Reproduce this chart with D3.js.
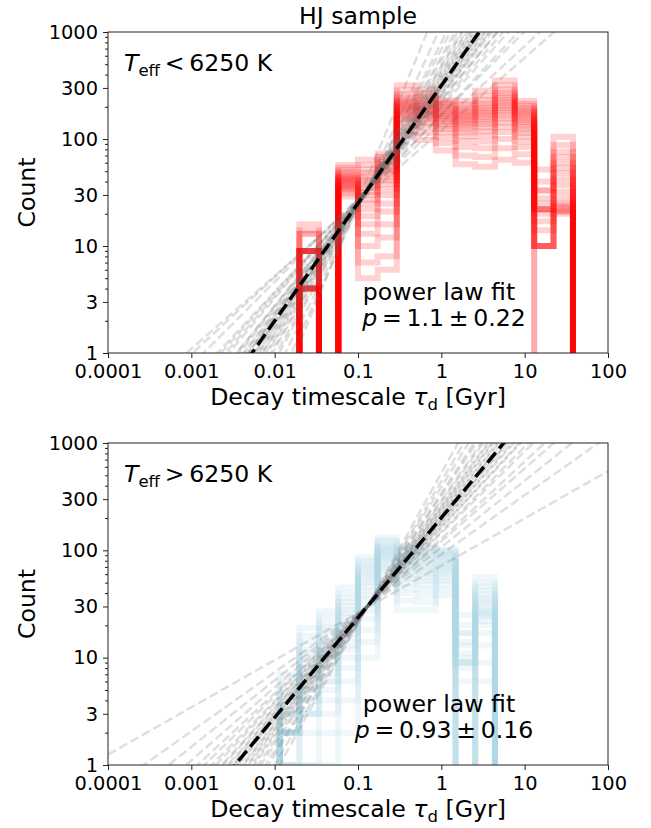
<!DOCTYPE html>
<html>
<head>
<meta charset="utf-8">
<script src="https://cdn.jsdelivr.net/npm/d3@7/dist/d3.min.js"></script>
<style>
body { margin: 0; background: #fff; }
svg text { font-family: "DejaVu Sans", sans-serif; fill: #000; }
</style>
</head>
<body>
<script>
// tick values / labels
var xTicks = [0.0001, 0.001, 0.01, 0.1, 1, 10, 100]
var xTickLabels = ['0.0001', '0.001', '0.01', '0.1', '1', '10', '100']
var yTicks = [1, 3, 10, 30, 100, 300, 1000]
var yTickLabels = ['1', '3', '10', '30', '100', '300', '1000']

// Teff < 6250 K : bin edges (Gyr) and counts per bin for 20 resamplings
var hotEdges = [0.0198, 0.034, 0.058, 0.1, 0.172, 0.292, 0.5, 0.86, 1.48, 2.55, 4.4, 7.6, 13, 22.2, 38]
var hotCounts = [
  [4, 4, 4, 4, 4, 4, 4, 4, 9, 9, 9, 9, 9, 9, 9, 9, 13, 13, 14, 16],
  [0, 0, 0, 0, 0, 0, 0, 0, 0, 0, 0, 0, 0, 0, 0, 0, 0, 0, 0, 0],
  [29, 31, 33, 34, 35, 36, 37, 38, 39, 40, 41, 42, 43, 44, 45, 47, 49, 51, 54, 57],
  [5, 7, 10, 13, 16, 19, 22, 25, 27, 30, 32, 35, 37, 40, 42, 45, 48, 52, 57, 64],
  [6, 8, 12, 16, 21, 25, 30, 34, 38, 41, 44, 47, 50, 52, 55, 58, 61, 64, 68, 73],
  [110, 128, 142, 152, 160, 167, 174, 180, 186, 192, 198, 204, 210, 217, 224, 233, 245, 262, 285, 318],
  [98, 115, 130, 142, 151, 159, 166, 172, 178, 184, 190, 196, 202, 209, 216, 225, 236, 250, 268, 290],
  [78, 92, 104, 115, 124, 132, 139, 146, 152, 158, 164, 170, 176, 183, 190, 197, 205, 213, 222, 232],
  [58, 70, 84, 96, 106, 115, 123, 130, 137, 143, 149, 155, 161, 167, 174, 181, 189, 198, 210, 228],
  [55, 68, 82, 95, 107, 118, 128, 137, 145, 153, 161, 169, 177, 185, 194, 204, 216, 232, 252, 282],
  [64, 82, 100, 116, 130, 143, 155, 166, 177, 187, 197, 207, 218, 229, 241, 255, 270, 290, 318, 352],
  [60, 72, 84, 95, 105, 114, 122, 130, 137, 144, 151, 158, 165, 172, 179, 186, 194, 203, 214, 228],
  [0, 0, 10, 10, 10, 10, 10, 14, 17, 20, 22, 22, 22, 22, 25, 28, 33, 33, 40, 52],
  [0, 0, 20, 21, 21, 22, 23, 24, 25, 28, 32, 37, 42, 48, 54, 60, 68, 76, 88, 105]
]
// power law fits  N = norm * tau^slope
var hotFitSlopes = [0.68, 0.72, 0.78, 0.83, 0.87, 0.9, 0.93, 0.96, 0.98, 1.0, 1.02, 1.04, 1.05, 1.07, 1.08, 1.1, 1.11, 1.12, 1.14, 1.16, 1.18, 1.2, 1.22, 1.25, 1.28, 1.31, 1.35, 1.4, 1.46, 1.55, 1.7, 1.9]
var hotFitNorms = [120, 141, 168, 170, 200, 215, 235, 228, 252, 262, 260, 290, 276, 300, 318, 305, 330, 322, 350, 352, 384, 380, 415, 430, 470, 485, 545, 590, 690, 800, 1150, 2100]
var hotBest = { slope: 1.1, norm: 316, label: '1.1\u2009\u00b1\u20090.22' }

// Teff > 6250 K
var coolEdges = [0.0115, 0.0198, 0.034, 0.058, 0.1, 0.172, 0.292, 0.5, 0.86, 1.48, 2.55, 4.4]
var coolCounts = [
  [1, 1, 1, 1, 2, 2, 2, 2, 2, 2, 2, 2, 3, 3, 3, 3, 4, 5, 6, 7],
  [1, 1, 2, 3, 3, 3, 4, 4, 5, 5, 6, 7, 8, 9, 10, 11, 12, 14, 16, 19],
  [1, 2, 3, 4, 5, 6, 6, 7, 8, 10, 11, 12, 13, 14, 16, 18, 19, 21, 24, 27],
  [2, 4, 6, 8, 10, 12, 13, 15, 17, 18, 20, 22, 24, 26, 28, 30, 33, 36, 40, 45],
  [10, 14, 18, 23, 27, 31, 35, 38, 42, 46, 50, 53, 57, 60, 63, 67, 71, 75, 80, 86],
  [50, 57, 63, 68, 72, 76, 80, 84, 87, 90, 93, 96, 99, 102, 105, 108, 112, 118, 124, 132],
  [28, 34, 40, 45, 50, 54, 58, 62, 66, 70, 74, 78, 82, 86, 90, 94, 98, 102, 106, 110],
  [28, 33, 38, 43, 48, 52, 56, 60, 64, 68, 72, 76, 80, 84, 88, 92, 96, 100, 105, 110],
  [38, 43, 48, 52, 56, 60, 63, 66, 69, 72, 75, 78, 81, 84, 87, 90, 93, 96, 99, 102],
  [0, 0, 0, 0, 0, 0, 6, 8, 9, 9, 9, 9, 10, 11, 13, 14, 17, 17, 20, 25],
  [6, 9, 13, 17, 20, 22, 24, 25, 26, 27, 28, 30, 32, 34, 36, 39, 42, 46, 50, 56]
]
var coolFitSlopes = [0.44, 0.55, 0.62, 0.68, 0.72, 0.76, 0.79, 0.82, 0.84, 0.86, 0.88, 0.9, 0.91, 0.93, 0.94, 0.96, 0.98, 1.0, 1.02, 1.04, 1.06, 1.09, 1.12, 1.16, 1.2, 1.25, 1.32, 1.4]
var coolFitNorms = [72, 92, 107, 121, 128, 145, 150, 165, 164, 178, 180, 193, 190, 204, 205, 218, 220, 236, 240, 255, 258, 282, 292, 325, 340, 390, 440, 524]
var coolBest = { slope: 0.93, norm: 201, label: '0.93\u2009\u00b1\u20090.16' }

var W = 651, H = 828
var left = 108, right = 608
var tickFont = 19.4, labelFont = 23.6

var svg = d3.select('body')
            .append('svg')
            .attr('width', W)
            .attr('height', H)

svg.append('text')
   .attr('x', (left + right) / 2)
   .attr('y', 24)
   .attr('text-anchor', 'middle')
   .style('font-size', labelFont + 'px')
   .text('HJ sample')

function drawPanel(id, top, bottom, edges, counts, colour, alpha, slopes, norms, best, sign){
  var x = d3.scaleLog().domain([1e-4, 100]).range([left, right])
  var y = d3.scaleLog().domain([1, 1000]).range([bottom, top])

  svg.append('clipPath').attr('id', 'clip' + id)
     .append('rect')
     .attr('x', left).attr('y', top)
     .attr('width', right - left).attr('height', bottom - top)

  var plot = svg.append('g').attr('clip-path', 'url(#clip' + id + ')')

  // histogram outlines, one per resampling
  var yc = function(c){ return c > 0 ? y(c) : bottom + 40 }
  var step = d3.line()
               .x(function(d){ return x(d[0]) })
               .y(function(d){ return yc(d[1]) })
               .curve(d3.curveStepAfter)
  var nReal = counts[0].length
  for (var k = 0; k < nReal; k++){
    var pts = [[edges[0], 0]]
    counts.forEach(function(bin, i){ pts.push([edges[i], bin[k]]) })
    pts.push([edges[edges.length - 1], counts[counts.length - 1][k]])
    pts.push([edges[edges.length - 1], 0])
    plot.append('path')
        .attr('d', step(pts))
        .attr('fill', 'none')
        .attr('stroke', colour)
        .attr('stroke-opacity', alpha)
        .attr('stroke-width', 6)
        .attr('stroke-linejoin', 'miter')
  }

  // bootstrap power-law fits
  var fit = d3.line()
              .x(function(d){ return x(d[0]) })
              .y(function(d){ return y(d[1]) })
  slopes.forEach(function(s, i){
    plot.append('path')
        .attr('d', fit([[1e-4, norms[i] * Math.pow(1e-4, s)], [100, norms[i] * Math.pow(100, s)]]))
        .attr('fill', 'none')
        .attr('stroke', '#666')
        .attr('stroke-opacity', 0.21)
        .attr('stroke-width', 2.5)
        .attr('stroke-dasharray', '9,4')
  })
  plot.append('path')
      .attr('d', fit([[1e-4, best.norm * Math.pow(1e-4, best.slope)], [100, best.norm * Math.pow(100, best.slope)]]))
      .attr('fill', 'none')
      .attr('stroke', '#000')
      .attr('stroke-width', 3.5)
      .attr('stroke-dasharray', '13,5.5')

  // frame
  svg.append('rect')
     .attr('x', left).attr('y', top)
     .attr('width', right - left).attr('height', bottom - top)
     .attr('fill', 'none')
     .attr('stroke', '#222')
     .attr('stroke-width', 1)

  // x axis
  var xAxis = d3.axisBottom(x)
                .tickValues(xTicks)
                .tickFormat(function(d, i){ return xTickLabels[i] })
                .tickSize(5)
                .tickSizeOuter(0)
                .tickPadding(6)
  var gx = svg.append('g').attr('transform', 'translate(0,' + bottom + ')').call(xAxis)
  gx.select('.domain').remove()
  gx.selectAll('line').attr('stroke', '#222')
  gx.selectAll('text').style('font-size', tickFont + 'px').attr('fill', '#000')

  // y axis with minor ticks
  var yMinor = []
  ;[1, 10, 100].forEach(function(dec){
    for (var m = 2; m <= 9; m++){ if (m != 3) yMinor.push(dec * m) }
  })
  var yAxisMinor = d3.axisLeft(y).tickValues(yMinor).tickSize(3).tickFormat('')
  var gym = svg.append('g').attr('transform', 'translate(' + left + ',0)').call(yAxisMinor)
  gym.select('.domain').remove()
  gym.selectAll('line').attr('stroke', '#222')

  var yAxis = d3.axisLeft(y)
                .tickValues(yTicks)
                .tickFormat(function(d, i){ return yTickLabels[i] })
                .tickSize(5)
                .tickSizeOuter(0)
                .tickPadding(5)
  var gy = svg.append('g').attr('transform', 'translate(' + left + ',0)').call(yAxis)
  gy.select('.domain').remove()
  gy.selectAll('line').attr('stroke', '#222')
  gy.selectAll('text').style('font-size', tickFont + 'px').attr('fill', '#000')

  // axis labels
  var xl = svg.append('text')
              .attr('x', (left + right) / 2)
              .attr('y', bottom + 52)
              .attr('text-anchor', 'middle')
              .style('font-size', labelFont + 'px')
  xl.append('tspan').text('Decay timescale ')
  xl.append('tspan').style('font-style', 'italic').text('\u03c4')
  xl.append('tspan').attr('dy', 5).style('font-size', (labelFont * 0.7) + 'px').text('d')
  xl.append('tspan').attr('dy', -5).text(' [Gyr]')

  svg.append('text')
     .attr('transform', 'translate(35,' + (top + bottom) / 2 + ') rotate(-90)')
     .attr('text-anchor', 'middle')
     .style('font-size', labelFont + 'px')
     .text('Count')

  // Teff annotation
  var tt = svg.append('text')
              .attr('x', left + 16)
              .attr('y', top + 39)
              .style('font-size', labelFont + 'px')
  tt.append('tspan').style('font-style', 'italic').text('T')
  tt.append('tspan').attr('dy', 5).style('font-size', (labelFont * 0.7) + 'px').text('eff')
  tt.append('tspan').attr('dy', -5).text('\u2009' + sign + '\u20096250 K')

  // fit annotation
  svg.append('text')
     .attr('x', 439)
     .attr('y', bottom - 53)
     .attr('text-anchor', 'middle')
     .style('font-size', labelFont + 'px')
     .text('power law fit')
  var pt = svg.append('text')
              .attr('x', 444)
              .attr('y', bottom - 27)
              .attr('text-anchor', 'middle')
              .style('font-size', labelFont + 'px')
  pt.append('tspan').style('font-style', 'italic').text('p')
  pt.append('tspan').text('\u2009=\u2009' + best.label)
}

drawPanel('a', 32, 353, hotEdges, hotCounts, '#ff0000', 0.18, hotFitSlopes, hotFitNorms, hotBest, '<')
drawPanel('b', 443, 765, coolEdges, coolCounts, '#add8e6', 0.2, coolFitSlopes, coolFitNorms, coolBest, '>')
</script>
</body>
</html>
